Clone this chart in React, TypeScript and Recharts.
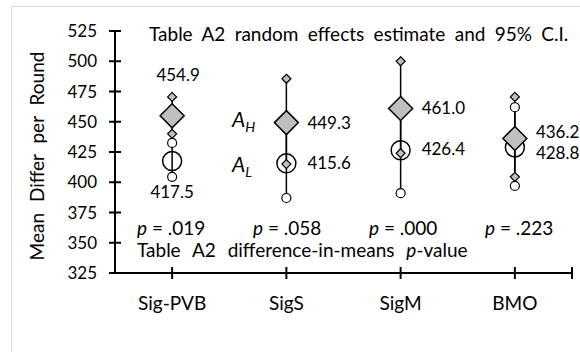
import { ComposedChart, ErrorBar, Scatter, XAxis, YAxis } from 'recharts';

const categories = ['Sig-PVB', 'SigS', 'SigM', 'BMO'];
const highEst = [454.9, 449.3, 461.0, 436.2];
const highLo = [440.0, 415.0, 424.0, 404.5];
const highHi = [470.5, 485.5, 500.0, 470.5];
const lowEst = [417.5, 415.6, 426.4, 428.8];
const lowLo = [404.5, 387.0, 391.0, 397.0];
const lowHi = [432.5, 445.0, 458.0, 462.0];
const pValues = ['.019', '.058', '.000', '.223'];
const yTicks = [325, 350, 375, 400, 425, 450, 475, 500, 525];
const xTicks = [1, 2, 3, 4, 4.5];

const FONT = 'Lato, "Open Sans", sans-serif';
const GREY = '#BFBFBF';

// value label offsets from the marker centre: [dx, dy, anchor]
const highLabel: [number, number, string][] = [[6, -35, 'middle'], [21, 6, 'start'], [21, 6, 'start'], [21, 0, 'start']];
const lowLabel: [number, number, string][] = [[0, 37, 'middle'], [21, 6, 'start'], [21, 5, 'start'], [21, 12, 'start']];
const pX = [137, 253, 369, 485];

const highPts = categories.map((c, i) => ({
  x: i + 1, y: highEst[i], idx: i, err: [highEst[i] - highLo[i], highHi[i] - highEst[i]],
}));
const lowPts = categories.map((c, i) => ({
  x: i + 1, y: lowEst[i], idx: i, err: [lowEst[i] - lowLo[i], lowHi[i] - lowEst[i]],
}));
const highEnds = categories.flatMap((c, i) => [{ x: i + 1, y: highLo[i] }, { x: i + 1, y: highHi[i] }]);
const lowEnds = categories.flatMap((c, i) => [{ x: i + 1, y: lowLo[i] }, { x: i + 1, y: lowHi[i] }]);

const diamond = (cx: number, cy: number, r: number) =>
  `${cx},${cy - r} ${cx + r},${cy} ${cx},${cy + r} ${cx - r},${cy}`;

function ValueText({ x, y, anchor, value }: any) {
  return (
    <text x={x} y={y} textAnchor={anchor} fontFamily={FONT} fontSize={17} fill="#000">
      {value.toFixed(1)}
    </text>
  );
}

function BigDiamond(props: any) {
  const { cx, cy, payload } = props;
  const [dx, dy, anchor] = highLabel[payload.idx];
  return (
    <g>
      <polygon points={diamond(cx, cy, 12)} fill={GREY} stroke="#000" strokeWidth={1.5} />
      <ValueText x={cx + dx} y={cy + dy} anchor={anchor} value={payload.y} />
    </g>
  );
}

function BigCircle(props: any) {
  const { cx, cy, payload } = props;
  const [dx, dy, anchor] = lowLabel[payload.idx];
  return (
    <g>
      <circle cx={cx} cy={cy} r={9.5} fill="none" stroke="#000" strokeWidth={1.5} />
      <ValueText x={cx + dx} y={cy + dy} anchor={anchor} value={payload.y} />
    </g>
  );
}

const SmallDiamond = (props: any) => (
  <polygon points={diamond(props.cx, props.cy, 4.5)} fill={GREY} stroke="#000" strokeWidth={1.2} />
);
const SmallCircle = (props: any) => (
  <circle cx={props.cx} cy={props.cy} r={4.5} fill="#fff" stroke="#000" strokeWidth={1.2} />
);
const NoShape = () => <g />;

function XTick({ x, y, payload }: any) {
  const v = payload.value;
  const label = Number.isInteger(v) ? categories[v - 1] : '';
  return (
    <g>
      <line x1={x} x2={x} y1={y - 6} y2={y + 6} stroke="#000" strokeWidth={2} />
      <text x={x} y={y + 37} textAnchor="middle" fontFamily={FONT} fontSize={19} fill="#000">
        {label}
      </text>
    </g>
  );
}

function YTick({ x, y, payload }: any) {
  return (
    <g>
      <line x1={x - 6} x2={x + 6} y1={y} y2={y} stroke="#000" strokeWidth={2} />
      <text x={x - 18} y={y + 6} textAnchor="end" fontFamily={FONT} fontSize={17} fill="#000">
        {payload.value}
      </text>
    </g>
  );
}

export default function App() {
  return (
    <div style={{ position: 'fixed', left: 0, top: 0, width: 580, height: 352, overflow: 'hidden', background: '#fff' }}>
      <ComposedChart width={580} height={352} margin={{ top: 31, right: 8, bottom: 39, left: 0 }}>
        <XAxis
          type="number"
          dataKey="x"
          domain={[0.5, 4.5]}
          ticks={xTicks}
          interval={0}
          height={40}
          tickSize={0}
          tickMargin={0}
          tick={<XTick />}
          axisLine={{ stroke: '#000', strokeWidth: 2 }}
        />
        <YAxis
          type="number"
          dataKey="y"
          domain={[325, 525]}
          ticks={yTicks}
          interval={0}
          width={115}
          tickSize={0}
          tickMargin={0}
          tick={<YTick />}
          axisLine={{ stroke: '#000', strokeWidth: 2 }}
        />
        <Scatter data={lowPts} shape={BigCircle} isAnimationActive={false} />
        <Scatter data={lowEnds} shape={SmallCircle} isAnimationActive={false} />
        <Scatter data={highPts} shape={BigDiamond} isAnimationActive={false} />
        <Scatter data={lowPts} shape={NoShape} isAnimationActive={false}>
          <ErrorBar dataKey="err" direction="y" width={0} stroke="#000" strokeWidth={1.5} isAnimationActive={false} />
        </Scatter>
        <Scatter data={highPts} shape={NoShape} isAnimationActive={false}>
          <ErrorBar dataKey="err" direction="y" width={0} stroke="#000" strokeWidth={1.5} isAnimationActive={false} />
        </Scatter>
        <Scatter data={highEnds} shape={SmallDiamond} isAnimationActive={false} />
      </ComposedChart>
      <svg width={580} height={352} style={{ position: 'absolute', left: 0, top: 0, pointerEvents: 'none' }}>
        <rect x={11.5} y={6.5} width={600} height={400} fill="none" stroke="#D9D9D9" />
        <g fontFamily={FONT} fill="#000">
          <text x={149} y={41} fontSize={19} style={{ wordSpacing: 4.5 }}>
            Table A2 random effects estimate and 95% C.I.
          </text>
          <text transform="translate(44,156) rotate(-90)" textAnchor="middle" fontSize={19} style={{ wordSpacing: 6 }}>
            Mean Differ per Round
          </text>
          <text x={232} y={127} fontSize={21} fontStyle="italic">
            A<tspan fontSize={14} dy={5}>H</tspan>
          </text>
          <text x={232} y={172} fontSize={21} fontStyle="italic">
            A<tspan fontSize={14} dy={5}>L</tspan>
          </text>
          {pValues.map((p, i) => (
            <text key={p} x={pX[i]} y={235} fontSize={19}>
              <tspan fontStyle="italic">p</tspan> = {p}
            </text>
          ))}
          <text x={137} y={257} fontSize={19} style={{ wordSpacing: 7 }}>
            Table A2 difference-in-means <tspan fontStyle="italic">p</tspan>-value
          </text>
        </g>
      </svg>
    </div>
  );
}
